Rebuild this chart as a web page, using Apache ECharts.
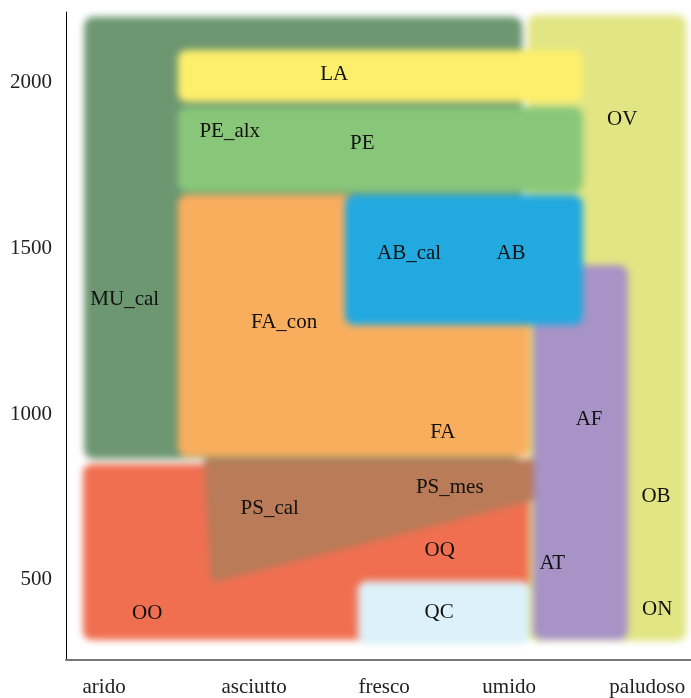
<!DOCTYPE html>
<html>
<head>
<meta charset="utf-8">
<script src="https://cdn.jsdelivr.net/npm/echarts@6/dist/echarts.min.js"></script>
<style>
  html, body { margin: 0; padding: 0; background: #ffffff; }
  #wrap { position: relative; width: 691px; height: 698px; }
  #zones, #axes { position: absolute; left: 0; top: 0; width: 691px; height: 698px; }
  #zones { filter: blur(3.5px); }
</style>
</head>
<body>
<div id="wrap">
  <div id="zones"></div>
  <div id="axes"></div>
</div>
<script>
// Moisture gradient (x) and altitude in metres (y)
const moistureLabels = ['arido', 'asciutto', 'fresco', 'umido', 'paludoso'];
const moistureLabelPos = [0.61, 3.01, 5.09, 7.09, 9.30];
const altitudeTicks = [500, 1000, 1500, 2000];
const xRange = [0, 10];
const yRange = [258, 2214];

// Vegetation zones, drawn in this order: [moisture from, moisture to, altitude from, altitude to]
const zoneNames = ['MU_cal', 'OV', 'AF', 'LA', 'PE', 'FA', 'AB', 'OO', 'QC'];
const zoneColors = ['#6d9771', '#e1e583', '#a793c6', '#fdef6b', '#88c77a', '#f9ae5e', '#22a9e0', '#f06f51', '#dcf1f9'];
const zoneMoistFrom = [0.29, 7.39, 7.47, 1.79, 1.79, 1.79, 4.46, 0.27, 4.67];
const zoneMoistTo   = [7.30, 9.92, 8.99, 8.27, 8.27, 7.42, 8.27, 7.41, 7.42];
const zoneAltFrom   = [865, 315, 318, 1942, 1671, 871, 1269, 318, 306];
const zoneAltTo     = [2200, 2205, 1450, 2099, 1927, 1662, 1662, 850, 496];

// Pine woodland band (PS) with its sloping lower edge
const psOutline = [[2.27, 853], [7.42, 853], [7.42, 750], [2.38, 506]];
const psColor = '#b97b58';

// Zone labels: name, moisture, altitude
const labelNames = ['LA', 'PE_alx', 'PE', 'OV', 'AB_cal', 'AB', 'MU_cal', 'FA_con', 'AF', 'FA',
                    'PS_mes', 'PS_cal', 'OB', 'OQ', 'AT', 'OO', 'QC', 'ON'];
const labelMoist = [4.29, 2.62, 4.74, 8.90, 5.49, 7.12, 0.94, 3.49, 8.37, 6.03,
                    6.14, 3.26, 9.44, 5.98, 7.78, 1.30, 5.97, 9.46];
const labelAlt   = [2030, 1858, 1822, 1897, 1490, 1490, 1351, 1284, 991, 952,
                    786, 720, 759, 596, 554, 403, 406, 418];

const FONT = 'Liberation Serif';
const grid = { left: 66, right: 0, top: 12, bottom: 38 };

const zoneData = zoneNames.map((n, i) => ({
  name: n,
  value: [zoneMoistFrom[i], zoneMoistTo[i], zoneAltFrom[i], zoneAltTo[i]]
}));

function zoneRect(offset) {
  return function (params, api) {
    const p0 = api.coord([api.value(0), api.value(3)]);
    const p1 = api.coord([api.value(1), api.value(2)]);
    return {
      type: 'rect',
      shape: { x: p0[0], y: p0[1], width: p1[0] - p0[0], height: p1[1] - p0[1], r: 9 },
      style: { fill: zoneColors[offset + params.dataIndex] }
    };
  };
}

const zonesChart = echarts.init(document.getElementById('zones'), null, { renderer: 'canvas' });
zonesChart.setOption({
  animation: false,
  grid: grid,
  xAxis: { type: 'value', min: xRange[0], max: xRange[1], show: false },
  yAxis: { type: 'value', min: yRange[0], max: yRange[1], show: false },
  series: [
    {
      type: 'custom', clip: false,
      data: zoneData.slice(0, 8),
      encode: { x: [0, 1], y: [2, 3] },
      renderItem: zoneRect(0)
    },
    {
      type: 'custom', clip: false,
      data: [0],
      renderItem: function (params, api) {
        return {
          type: 'polygon',
          shape: { points: psOutline.map(p => api.coord(p)) },
          style: { fill: psColor, lineJoin: 'round', stroke: psColor, lineWidth: 8 }
        };
      }
    },
    {
      type: 'custom', clip: false,
      data: zoneData.slice(8),
      encode: { x: [0, 1], y: [2, 3] },
      renderItem: zoneRect(8)
    }
  ]
});

const axesChart = echarts.init(document.getElementById('axes'), null, { renderer: 'canvas' });
axesChart.setOption({
  animation: false,
  backgroundColor: 'transparent',
  grid: grid,
  xAxis: {
    type: 'value', min: xRange[0], max: xRange[1],
    splitLine: { show: false },
    axisTick: { show: false },
    axisLine: { show: true, lineStyle: { color: '#777777', width: 2 } },
    axisLabel: {
      customValues: moistureLabelPos,
      formatter: function (v) {
        const i = moistureLabelPos.indexOf(v);
        return i >= 0 ? moistureLabels[i] : '';
      },
      fontFamily: FONT, fontSize: 21, color: '#222222', margin: 17
    }
  },
  yAxis: {
    type: 'value', min: yRange[0], max: yRange[1],
    splitLine: { show: false },
    axisTick: { show: false },
    axisLine: { show: true, lineStyle: { color: '#000000', width: 1 } },
    axisLabel: {
      customValues: altitudeTicks,
      formatter: function (v) { return String(v); },
      padding: [4, 0, 0, 0],
      fontFamily: FONT, fontSize: 21, color: '#222222', margin: 14
    }
  },
  series: [
    {
      type: 'custom', clip: false,
      data: labelNames.map((n, i) => [labelMoist[i], labelAlt[i]]),
      renderItem: function (params, api) {
        const p = api.coord([api.value(0), api.value(1)]);
        return {
          type: 'text',
          x: p[0], y: p[1] + 2,
          style: {
            text: labelNames[params.dataIndex],
            fontFamily: FONT, fontSize: 21, fill: '#111111',
            align: 'center', verticalAlign: 'middle'
          }
        };
      }
    }
  ]
});
</script>
</body>
</html>
